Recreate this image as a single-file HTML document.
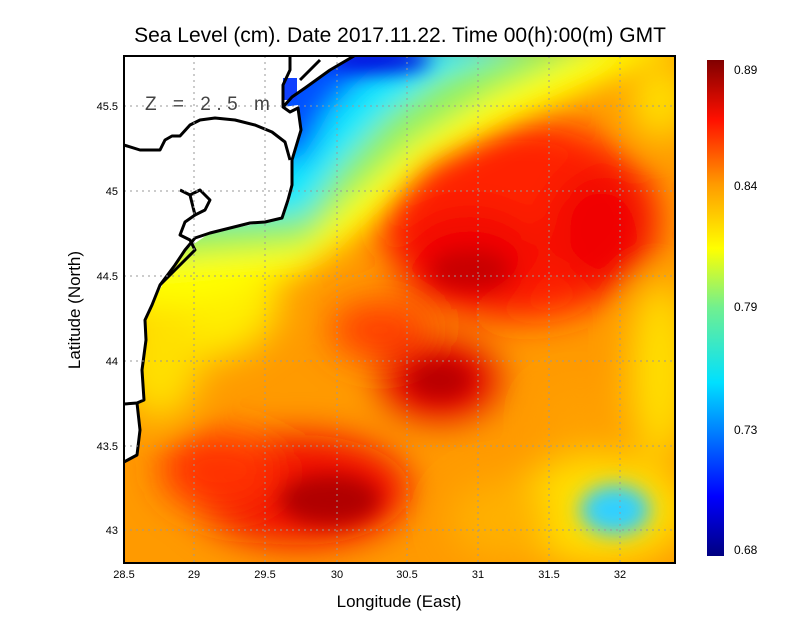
<!DOCTYPE html>
<html><head><style>
body{margin:0;background:#fff;}
svg text{font-family:"Liberation Sans",sans-serif;}
</style></head><body>
<svg width="800" height="618" viewBox="0 0 800 618" xmlns="http://www.w3.org/2000/svg">
<defs>
<filter id="b1" x="-50%" y="-50%" width="200%" height="200%"><feGaussianBlur stdDeviation="18"/></filter>
<filter id="b2" x="-50%" y="-50%" width="200%" height="200%"><feGaussianBlur stdDeviation="10"/></filter>
<filter id="b3" x="-50%" y="-50%" width="200%" height="200%"><feGaussianBlur stdDeviation="14"/></filter>
<clipPath id="cp"><rect x="124" y="56" width="551" height="507"/></clipPath>
<linearGradient id="cb" x1="0" y1="1" x2="0" y2="0">
<stop offset="0" stop-color="#000080"/><stop offset="0.12" stop-color="#0000ff"/>
<stop offset="0.35" stop-color="#00e0ff"/><stop offset="0.5" stop-color="#70f090"/>
<stop offset="0.62" stop-color="#ffff00"/><stop offset="0.75" stop-color="#ff9a00"/>
<stop offset="0.88" stop-color="#ff1000"/><stop offset="1" stop-color="#800000"/>
</linearGradient>
</defs>
<text x="400" y="42" font-size="21" text-anchor="middle" fill="#000">Sea Level (cm). Date 2017.11.22. Time 00(h):00(m) GMT</text>
<g clip-path="url(#cp)">
<rect x="124" y="56" width="551" height="507" fill="#ff9a00"/>
<g filter="url(#b1)">
<ellipse cx="200" cy="300" rx="80" ry="60" fill="#ffee00"/>
<ellipse cx="160" cy="360" rx="40" ry="60" fill="#ffe000"/>
<ellipse cx="520" cy="220" rx="140" ry="100" fill="#ff2000"/>
<ellipse cx="470" cy="260" rx="70" ry="50" fill="#f00000"/>
<ellipse cx="600" cy="230" rx="50" ry="60" fill="#f00000"/>
<ellipse cx="660" cy="100" rx="30" ry="40" fill="#ffe000"/>
<ellipse cx="440" cy="380" rx="60" ry="40" fill="#e00000"/>
<ellipse cx="380" cy="330" rx="50" ry="30" fill="#ff4000"/>
<ellipse cx="300" cy="490" rx="110" ry="55" fill="#f01000"/>
<ellipse cx="220" cy="470" rx="60" ry="40" fill="#ff3000"/>
<ellipse cx="660" cy="370" rx="30" ry="90" fill="#ffe000"/>
<ellipse cx="600" cy="510" rx="90" ry="55" fill="#ffe000"/>
<ellipse cx="500" cy="520" rx="50" ry="40" fill="#ffb000"/>
<ellipse cx="580" cy="420" rx="40" ry="30" fill="#ffa000"/>
</g>
<g filter="url(#b3)">
<path d="M124,40 L690,40 L620,75 L520,120 L430,165 L370,225 L300,275 L200,300 L124,300 Z" fill="#ffff00"/>
<path d="M124,40 L610,40 L490,95 L410,145 L350,200 L305,245 L124,260 Z" fill="#90f060"/>
<path d="M124,40 L530,40 L440,75 L385,115 L335,170 L305,215 L124,220 Z" fill="#10e8ff"/>
<path d="M124,40 L450,40 L370,70 L330,110 L305,160 L124,160 Z" fill="#0050ff"/>
</g>
<g filter="url(#b2)">
<ellipse cx="380" cy="60" rx="50" ry="12" fill="#0000e0"/>
<ellipse cx="330" cy="500" rx="50" ry="25" fill="#b00000"/>
<ellipse cx="440" cy="380" rx="30" ry="18" fill="#b80000"/>
<ellipse cx="470" cy="270" rx="40" ry="20" fill="#c80000"/>
<ellipse cx="615" cy="510" rx="35" ry="25" fill="#30d0ff"/>
</g>
<!-- land -->
<path d="M124,56 L352,56 L330,70 L305,88 L292,97 L283,107 L298,105 L301,130 L292,160 L290,200 L282,218 L250,225 L210,233 L185,250 L170,270 L152,305 L145,320 L146,340 L142,370 L144,400 L137,403 L140,430 L137,455 L124,462 Z" fill="#fff"/>
<rect x="283" y="78" width="14" height="22" fill="#1040ff"/>
<g fill="none" stroke="#000" stroke-width="3" stroke-linejoin="round">
<path d="M354,56 L330,70 L305,88 L292,97 L283,107 L290,112 L298,108 L301,130 L292,160 L292,185 L288,200 L282,218 L265,222 L250,223 L230,228 L210,233 L195,238 L185,250 L175,265 L160,285 L152,305 L145,320 L146,340 L142,370 L144,400 L137,403 L124,404"/>
<path d="M137,403 L140,430 L137,455 L124,462"/>
<path d="M124,145 L140,150 L160,150 L165,140 L172,136 L180,136 L190,125 L200,120 L215,118 L235,120 L255,125 L272,132 L285,142 L290,160"/>
<path d="M180,190 L190,195 L195,215 L185,222 L180,235 L190,240 L195,250 L180,265 L160,285"/>
<path d="M195,215 L205,210 L210,200 L200,190 L190,195"/>
<path d="M283,107 L283,85 L290,70 L290,56"/>
<path d="M300,80 L310,70 L320,60"/>
</g>
</g>
<g stroke="#999" stroke-width="1" stroke-dasharray="2,4">
<line x1="194" y1="56" x2="194" y2="563"/><line x1="265" y1="56" x2="265" y2="563"/>
<line x1="337" y1="56" x2="337" y2="563"/><line x1="407" y1="56" x2="407" y2="563"/>
<line x1="478" y1="56" x2="478" y2="563"/><line x1="549" y1="56" x2="549" y2="563"/>
<line x1="620" y1="56" x2="620" y2="563"/>
<line x1="124" y1="106" x2="675" y2="106"/><line x1="124" y1="191" x2="675" y2="191"/>
<line x1="124" y1="276" x2="675" y2="276"/><line x1="124" y1="361" x2="675" y2="361"/>
<line x1="124" y1="446" x2="675" y2="446"/><line x1="124" y1="530" x2="675" y2="530"/>
</g>
<text x="145" y="110" font-size="19" fill="#444" letter-spacing="5.5">Z = 2.5 m</text>
<rect x="124" y="56" width="551" height="507" fill="none" stroke="#000" stroke-width="2"/>
<g font-size="11" fill="#000" text-anchor="middle">
<text x="124" y="578">28.5</text><text x="194" y="578">29</text><text x="265" y="578">29.5</text>
<text x="337" y="578">30</text><text x="407" y="578">30.5</text><text x="478" y="578">31</text>
<text x="549" y="578">31.5</text><text x="620" y="578">32</text>
</g>
<g font-size="11" fill="#000" text-anchor="end">
<text x="118" y="110">45.5</text><text x="118" y="195">45</text><text x="118" y="280">44.5</text>
<text x="118" y="365">44</text><text x="118" y="450">43.5</text><text x="118" y="534">43</text>
</g>
<text x="399" y="607" font-size="17" text-anchor="middle">Longitude (East)</text>
<text transform="translate(80,310) rotate(-90)" font-size="17" text-anchor="middle">Latitude (North)</text>
<rect x="707" y="60" width="17" height="496" fill="url(#cb)"/>
<g font-size="12" fill="#000">
<text x="734" y="74">0.89</text><text x="734" y="190">0.84</text><text x="734" y="311">0.79</text>
<text x="734" y="434">0.73</text><text x="734" y="554">0.68</text>
</g>
</svg>
</body></html>
